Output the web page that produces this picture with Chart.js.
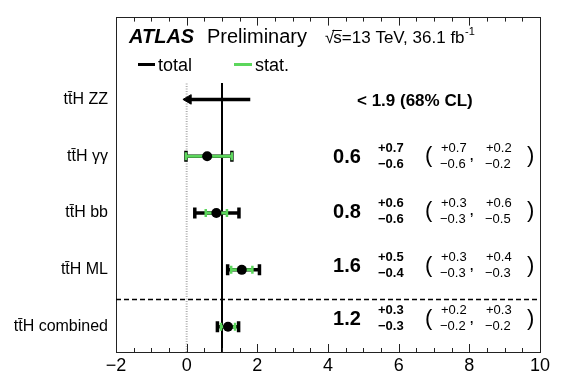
<!DOCTYPE html>
<html><head><meta charset="utf-8">
<script src="https://cdn.jsdelivr.net/npm/chart.js@4.4.1/dist/chart.umd.min.js"></script>
<style>html,body{margin:0;padding:0;background:#fff}#wrap{width:570px;height:380px}</style>
</head><body><div id="wrap"><canvas id="c" width="570" height="380"></canvas></div>
<script>
// ---- data ----
const channels = ['tt\u0304H combined', 'tt\u0304H ML', 'tt\u0304H bb', 'tt\u0304H \u03b3\u03b3', 'tt\u0304H ZZ'];
const mu     = [1.17, 1.56, 0.84, 0.58];
const totUp  = [0.30, 0.50, 0.64, 0.70];
const totDn  = [0.30, 0.40, 0.61, 0.60];
const statUp = [0.20, 0.30, 0.30, 0.70];
const statDn = [0.20, 0.30, 0.30, 0.60];
const zzUpper = 1.8;     // ZZ arrow start
const zzTip = 0.05;      // ZZ arrow end
const muText     = ['1.2', '1.6', '0.8', '0.6'];
const totUpText  = ['+0.3', '+0.5', '+0.6', '+0.7'];
const totDnText  = ['\u22120.3', '\u22120.4', '\u22120.6', '\u22120.6'];
const statUpText = ['+0.2', '+0.3', '+0.3', '+0.7'];
const statDnText = ['\u22120.2', '\u22120.3', '\u22120.3', '\u22120.6'];
const systUpText = ['+0.3', '+0.4', '+0.6', '+0.2'];
const systDnText = ['\u22120.2', '\u22120.3', '\u22120.5', '\u22120.2'];
const zzText = '< 1.9 (68% CL)';
const xTicks = [-2, 0, 2, 4, 6, 8, 10];
const smValue = 1;

// ---- style / layout ----
const FONT = '"Liberation Sans", Arial, Helvetica, sans-serif';
Chart.defaults.font.family = FONT;
const GREEN = '#5cd65c';
const noteDy = [-8, -4, -2, 0];
const Y_MIN = -0.446, Y_MAX = 5.44;

const datasets = [];
datasets.push({data: [{x: smValue, y: Y_MIN}, {x: smValue, y: 4.29}], showLine: true, borderColor: '#000', borderWidth: 2, pointRadius: 0, order: 6});
datasets.push({data: [{x: 0, y: Y_MIN}, {x: 0, y: 4.29}], showLine: true, borderColor: '#b0b0b0', borderWidth: 2, borderDash: [1, 1.5], pointRadius: 0, order: 6});
datasets.push({data: [{x: -2, y: 0.48}, {x: 10, y: 0.48}], showLine: true, borderColor: '#000', borderWidth: 1.5, borderDash: [5, 3], pointRadius: 0, order: 6});
// ZZ arrow
datasets.push({data: [{x: zzTip, y: 4}, {x: zzUpper, y: 4}], showLine: true, borderColor: '#000', borderWidth: 3.5,
  pointStyle: 'triangle', rotation: -90, pointRadius: [5.5, 0], pointBackgroundColor: '#000', pointBorderColor: '#000', pointBorderWidth: 1, order: 3});
for (let i = 0; i < mu.length; i++) {
  datasets.push({data: [{x: mu[i] - totDn[i], y: i}, {x: mu[i] + totUp[i], y: i}], showLine: true, borderColor: '#000', borderWidth: 3.5,
    pointStyle: 'line', rotation: 90, pointRadius: 5.5, pointBorderWidth: 3.5, pointBorderColor: '#000', order: 3});
  datasets.push({data: [{x: mu[i] - statDn[i], y: i}, {x: mu[i] + statUp[i], y: i}], showLine: true, borderColor: GREEN, borderWidth: 3,
    pointStyle: 'line', rotation: 90, pointRadius: 4, pointBorderWidth: 2.5, pointBorderColor: GREEN, order: 2});
}
datasets.push({data: mu.map((m, i) => ({x: m, y: i})), showLine: false, pointRadius: 5, pointBackgroundColor: '#000', pointBorderColor: '#000', pointBorderWidth: 0, order: 0});

function txt(ctx, s, x, y, font, align, base) {
  ctx.font = font + ' ' + FONT; ctx.textAlign = align || 'left'; ctx.textBaseline = base || 'middle';
  ctx.fillStyle = '#000'; ctx.fillText(s, x, y);
}

const decor = {
  id: 'decor',
  afterDraw(chart) {
    const ctx = chart.ctx, xs = chart.scales.x, ys = chart.scales.y, a = chart.chartArea;
    ctx.save();
    // inward ticks
    ctx.strokeStyle = '#222'; ctx.lineWidth = 1;
    for (let k = 0; k <= 24; k++) {
      const v = xs.min + 0.5 * k;
      const px = Math.round(xs.getPixelForValue(v)) + 0.5;
      const L = (Math.abs(v % 2) < 1e-9) ? 8 : 4;
      ctx.beginPath(); ctx.moveTo(px, a.bottom); ctx.lineTo(px, a.bottom - L);
      ctx.moveTo(px, a.top); ctx.lineTo(px, a.top + L); ctx.stroke();
    }
    // header
    txt(ctx, 'ATLAS', 129, 43, 'italic bold 20px', 'left', 'alphabetic');
    txt(ctx, 'Preliminary', 207, 43, '20px', 'left', 'alphabetic');
    let x = 325;
    ctx.font = '17px ' + FONT;
    txt(ctx, '\u221a', x, 43, '17px', 'left', 'alphabetic');
    x += ctx.measureText('\u221a').width - 1;
    txt(ctx, 's', x, 43, '17px', 'left', 'alphabetic');
    const sw = ctx.measureText('s').width;
    ctx.lineWidth = 1; ctx.strokeStyle = '#000';
    ctx.beginPath(); ctx.moveTo(x - 1, 30.5); ctx.lineTo(x + sw, 30.5); ctx.stroke();
    x += sw;
    const main = '=13 TeV, 36.1 fb';
    txt(ctx, main, x, 43, '17px', 'left', 'alphabetic');
    x += ctx.measureText(main).width + 0.5;
    txt(ctx, '-1', x, 35, '11px', 'left', 'alphabetic');
    // legend
    ctx.lineWidth = 3;
    ctx.strokeStyle = '#000'; ctx.beginPath(); ctx.moveTo(138, 64.5); ctx.lineTo(155, 64.5); ctx.stroke();
    ctx.strokeStyle = GREEN; ctx.beginPath(); ctx.moveTo(234, 64.5); ctx.lineTo(252, 64.5); ctx.stroke();
    txt(ctx, 'total', 158, 71, '18px', 'left', 'alphabetic');
    txt(ctx, 'stat.', 255, 71, '18px', 'left', 'alphabetic');
    // notes
    txt(ctx, zzText, 357, ys.getPixelForValue(4) + 2, 'bold 17px');
    for (let i = 0; i < muText.length; i++) {
      const y = ys.getPixelForValue(i) + noteDy[i];
      txt(ctx, muText[i], 347, y + 1, 'bold 20px', 'center');
      txt(ctx, totUpText[i], 378, y - 8, 'bold 13px');
      txt(ctx, totDnText[i], 378, y + 8, 'bold 13px');
      txt(ctx, '(', 425, y, '22px');
      txt(ctx, statUpText[i], 441, y - 8, '13px');
      txt(ctx, statDnText[i], 440, y + 8, '13px');
      txt(ctx, ',', 470, y + 4, 'bold 12px', 'left', 'alphabetic');
      txt(ctx, systUpText[i], 486, y - 8, '13px');
      txt(ctx, systDnText[i], 485, y + 8, '13px');
      txt(ctx, ')', 527, y, '22px');
    }
    ctx.restore();
  }
};

new Chart(document.getElementById('c'), {
  type: 'scatter',
  data: {datasets},
  options: {
    responsive: false, animation: false, events: [],
    layout: {padding: 0},
    plugins: {legend: {display: false}, tooltip: {enabled: false}},
    scales: {
      x: {type: 'linear', position: 'bottom', min: -2, max: 10,
        afterBuildTicks: s => { s.ticks = xTicks.map(v => ({value: v})); },
        ticks: {autoSkip: false, maxRotation: 0, color: '#000', font: {size: 18}, padding: 3,
          callback: v => (v < 0 ? '\u2212' + Math.abs(v) : String(v))},
        grid: {display: false, drawTicks: false},
        border: {display: true, color: '#222', width: 1},
        afterFit: s => { s.height = 28; }},
      x2: {type: 'linear', position: 'top', min: -2, max: 10,
        ticks: {display: false}, grid: {display: false, drawTicks: false},
        border: {display: true, color: '#222', width: 1},
        afterFit: s => { s.height = 9; }},
      y: {type: 'linear', position: 'left', min: Y_MIN, max: Y_MAX,
        afterBuildTicks: s => { s.ticks = channels.map((c, i) => ({value: i})); },
        ticks: {autoSkip: false, color: '#000', font: {size: 16}, padding: 8,
          callback: v => channels[v]},
        grid: {display: false, drawTicks: false},
        border: {display: true, color: '#222', width: 1},
        afterFit: s => { s.width = 116; }},
      y2: {type: 'linear', position: 'right', min: Y_MIN, max: Y_MAX,
        ticks: {display: false}, grid: {display: false, drawTicks: false},
        border: {display: true, color: '#222', width: 1},
        afterFit: s => { s.width = 30; }}
    }
  },
  plugins: [decor]
});
</script></body></html>
